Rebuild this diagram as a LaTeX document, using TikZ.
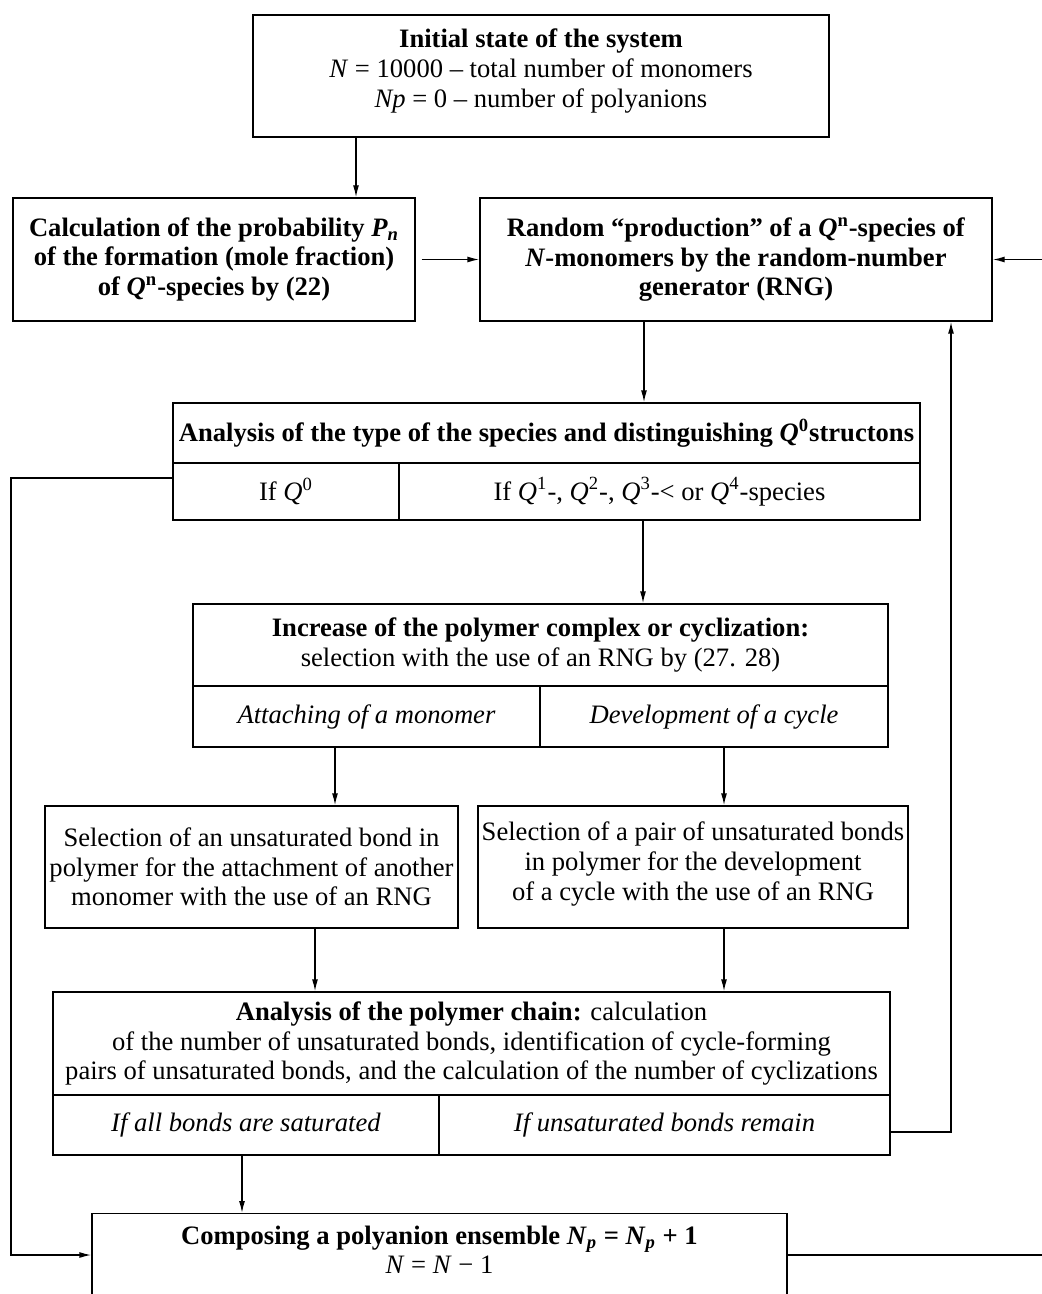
\documentclass[tikz,border=0pt]{standalone}
\usepackage{fontspec}
\setmainfont{Liberation Serif}
\usetikzlibrary{arrows.meta}
\tikzset{
  box/.style={draw, line width=0.7pt, inner sep=0pt, align=center,
    font=\fontsize{13.3}{14.8}\selectfont},
  arr/.style={draw, line width=0.7pt, -{Latex[length=6pt,width=3pt]}}
}
\begin{document}
\begin{tikzpicture}[x=0.5pt,y=-0.5pt]
\useasboundingbox (0,0) rectangle (1042,1294);
\clip (0,0) rectangle (1042,1294);

\node[box, minimum width=288pt, minimum height=61pt] (init) at (541,76)
  {\textbf{Initial state of the system}\\
   \textit{N} = 10000 – total number of monomers\\
   \textit{Np} = 0 – number of polyanions\\[-7pt]\mbox{}};

\node[box, minimum width=201pt, minimum height=61.5pt] (calc) at (214,259.5)
  {\textbf{Calculation of the probability \textit{P\textsubscript{n}}}\\
   \textbf{of the formation (mole fraction)}\\
   \textbf{of \textit{Q}\textsuperscript{n}-species by (22)}};

\node[box, minimum width=256pt, minimum height=61.5pt] (rand) at (736,259.5)
  {\textbf{Random “production” of a \textit{Q}\textsuperscript{n}-species of}\\
   \textbf{\textit{N}-monomers by the random-number}\\
   \textbf{generator (RNG)}};

\node[box, minimum width=373.5pt, minimum height=30pt] (typeh) at (546.5,433)
  {\textbf{Analysis of the type of the species and distinguishing \textit{Q}\textsuperscript{0}structons}};
\node[box, minimum width=113pt, minimum height=28.5pt] (typeL) at (286,491.5)
  {If \textit{Q}\textsuperscript{0}};
\node[box, minimum width=260.5pt, minimum height=28.5pt] (typeR) at (659.5,491.5)
  {If \textit{Q}\textsuperscript{1}-, \textit{Q}\textsuperscript{2}-, \textit{Q}\textsuperscript{3}-< or \textit{Q}\textsuperscript{4}-species};

\node[box, minimum width=347.5pt, minimum height=41pt] (incrh) at (540.5,645)
  {\textbf{Increase of the polymer complex or cyclization:}\\
   selection with the use of an RNG by (27. 28)};
\node[box, minimum width=173.5pt, minimum height=30.5pt] (incrL) at (366.5,716.5)
  {\textit{Attaching of a monomer}};
\node[box, minimum width=174pt, minimum height=30.5pt] (incrR) at (714,716.5)
  {\textit{Development of a cycle}};

\node[box, minimum width=206.5pt, minimum height=61pt] (selA) at (251.5,867)
  {Selection of an unsaturated bond in\\
   polymer for the attachment of another\\
   monomer with the use of an RNG};
\node[box, minimum width=215pt, minimum height=61pt] (selB) at (693,867)
  {Selection of a pair of unsaturated bonds\\
   in polymer for the development\\
   of a cycle with the use of an RNG\\[-9pt]\mbox{}};

\node[box, minimum width=418.5pt, minimum height=51.5pt] (chainh) at (471.5,1043.5)
  {\textbf{Analysis of the polymer chain:} calculation\\
   of the number of unsaturated bonds, identification of cycle-forming\\
   pairs of unsaturated bonds, and the calculation of the number of cyclizations};
\node[box, minimum width=193pt, minimum height=30pt] (chainL) at (246,1125)
  {\textit{If all bonds are saturated}};
\node[box, minimum width=225.5pt, minimum height=30pt] (chainR) at (664.5,1125)
  {\textit{If unsaturated bonds remain}};

\node[box, minimum width=347.5pt, minimum height=42pt, anchor=north] (comp) at (439.5,1213)
  {\textbf{Composing a polyanion ensemble \textit{N}\textsubscript{\textit{p}} = \textit{N}\textsubscript{\textit{p}} + 1}\\
   \textit{N} = \textit{N} − 1\\[-9pt]\mbox{}};

% connectors
\draw[arr] (init.south -| 356,0) -- (calc.north -| 356,0);
\draw[arr, shorten <=3pt] (calc.east) -- (rand.west);
\draw[arr] (rand.south -| 644,0) -- (typeh.north -| 644,0);
\draw[arr] (typeR.south -| 643,0) -- (incrh.north -| 643,0);
\draw[arr] (typeL.west |- 0,478) -- (11,478) |- (comp.west |- 0,1255);
\draw[arr] (incrL.south -| 335,0) -- (selA.north -| 335,0);
\draw[arr] (incrR.south -| 724,0) -- (selB.north -| 724,0);
\draw[arr] (selA.south -| 315,0) -- (chainh.north -| 315,0);
\draw[arr] (selB.south -| 724,0) -- (chainh.north -| 724,0);
\draw[arr] (chainR.east |- 0,1132) -| (rand.south -| 951,0);
\draw[arr] (chainL.south -| 242,0) -- (comp.north -| 242,0);
\draw[arr] (comp.east |- 0,1255) -- (1100,1255) |- (rand.east);
\end{tikzpicture}
\end{document}
